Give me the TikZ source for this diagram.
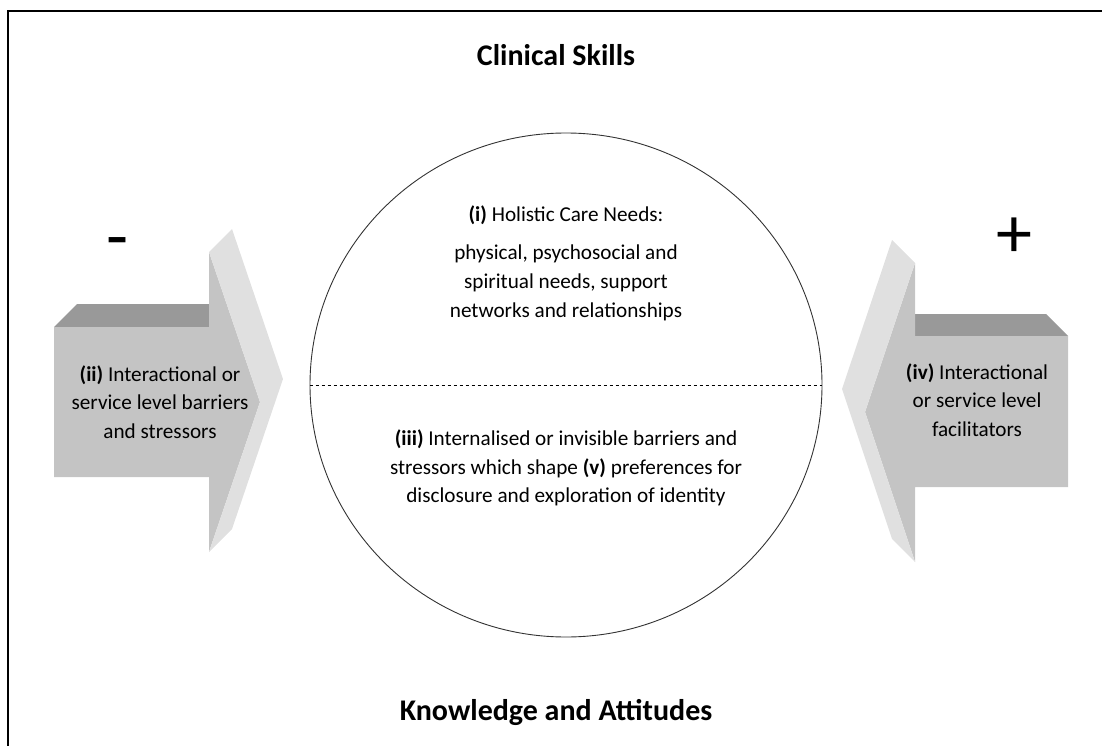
\documentclass[tikz,border=0pt]{standalone}
\usepackage{fontspec}
\setmainfont{Carlito}
\usetikzlibrary{shapes.geometric}

\begin{document}
\begin{tikzpicture}[x=1pt,y=-1pt,font=\fontsize{21.2}{28.7}\selectfont]
    \tikzset{
        topface/.style={fill=black!40,draw=none},
        frontface/.style={fill=black!23,draw=none},
        bevelface/.style={fill=black!12,draw=none},
        heading/.style={font=\fontsize{30}{30}\selectfont\bfseries},
        sign/.style={font=\fontsize{72}{72}\selectfont},
        blurb/.style={align=center,inner sep=0pt}
    }

    \useasboundingbox (0,0) rectangle (1102,746);
    \draw[line width=2pt] (8,746) -- (8,11) -- (1102,11);

    % left arrow (barriers)
    \coordinate (la) at (54,402);
    \fill[topface] (54,327) -- (77,304) -- (209,304) -- (209,327) -- cycle;
    \fill[frontface] (54,327) -- (209,327) -- (209,252) -- (260,402)
        -- (209,552) -- (209,477) -- (54,477) -- cycle;
    \fill[bevelface] (209,252) -- (232,229) -- (283,379) -- (232,529)
        -- (209,552) -- (260,402) -- cycle;
    \node[blurb] (ii) at ([xshift=106pt] la) {\textbf{(ii)} Interactional or\\service level barriers\\and stressors};

    % right arrow (facilitators)
    \coordinate (ra) at (1068,412);
    \fill[topface] (1068,336) -- (1046,314) -- (915,314) -- (915,336) -- cycle;
    \fill[frontface] (1068,336) -- (915,336) -- (915,263) -- (865,412)
        -- (915,562) -- (915,487) -- (1068,487) -- cycle;
    \fill[bevelface] (915,263) -- (892,240) -- (842,389) -- (892,539)
        -- (915,562) -- (865,412) -- cycle;
    \node[blurb] (iv) at ([xshift=-91pt,yshift=12pt] ra) {\textbf{(iv)} Interactional\\or service level\\facilitators};

    \node[sign] (minus) at (118,249) {-};
    \node[sign] (plus) at (1014,238) {+};

    % circle with the two halves
    \node[draw=black!80,line width=0.9pt,ellipse,minimum width=512pt,minimum height=504pt,inner sep=0pt] (hub) at (566,385) {};
    \draw[dashed,line width=0.9pt] (hub.west) -- (hub.east);

    \node[blurb] (i) at (566,215) {\textbf{(i)} Holistic Care Needs:};
    \node[blurb] (ineeds) at (566,283) {physical, psychosocial and\\spiritual needs, support\\networks and relationships};
    \node[blurb] (iii) at (566,468) {\textbf{(iii)} Internalised or invisible barriers and\\stressors which shape \textbf{(v)} preferences for\\disclosure and exploration of identity};

    \node[heading] (skills) at (556,55) {Clinical Skills};
    \node[heading] (knowledge) at (556,712) {Knowledge and Attitudes};
\end{tikzpicture}
\end{document}
